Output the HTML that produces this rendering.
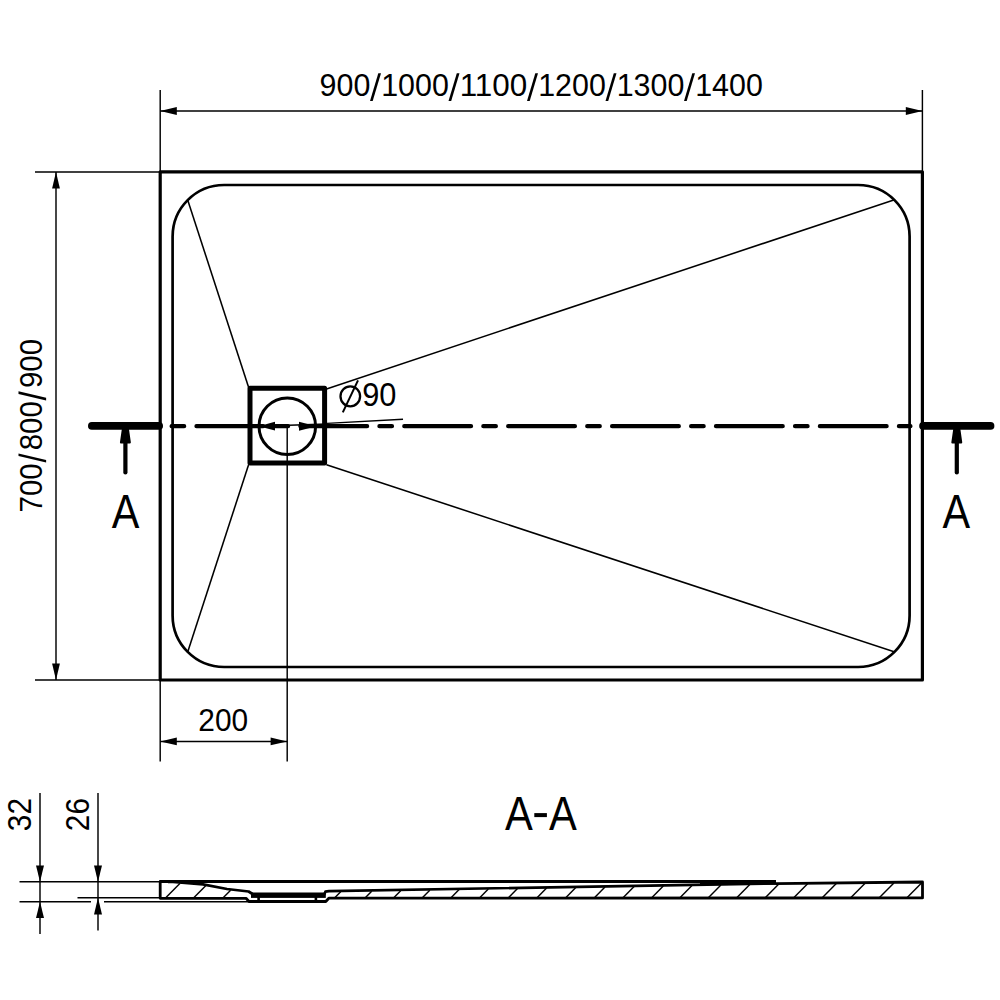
<!DOCTYPE html>
<html>
<head>
<meta charset="utf-8">
<title>Shower tray drawing</title>
<style>
html,body{margin:0;padding:0;background:#fff;}
body{width:1000px;height:1000px;overflow:hidden;}
svg{display:block;}
text{font-family:"Liberation Sans",sans-serif;fill:#000;}
</style>
</head>
<body>
<svg width="1000" height="1000" viewBox="0 0 1000 1000">
<rect x="0" y="0" width="1000" height="1000" fill="#fff"/>

<!-- ===== PLAN VIEW ===== -->
<g fill="none" stroke="#000" stroke-linecap="butt">
  <rect x="160.2" y="171.8" width="762.2" height="508.2" stroke-width="3.2" stroke-linejoin="round"/>
  <rect x="172.6" y="185" width="737" height="482" rx="51.5" ry="51.5" stroke-width="2.7"/>
  <g stroke-width="1.55">
    <line x1="248.5" y1="387" x2="187.62" y2="199.74"/>
    <line x1="248.5" y1="465" x2="187.62" y2="652.26"/>
    <line x1="326.5" y1="388.9" x2="894.52" y2="199.69"/>
    <line x1="326.5" y1="464.8" x2="894.84" y2="652.01"/>
  </g>
  <rect x="250" y="388.2" width="74.6" height="74.9" stroke-width="5" stroke-linejoin="round"/>
  <circle cx="287.3" cy="426.3" r="28.3" stroke-width="3"/>
</g>

<!-- ===== CENTRE / SECTION LINE ===== -->
<g fill="none" stroke="#000" stroke-linecap="round">
  <line x1="171.65" y1="426.2" x2="910.4" y2="426.2" stroke-width="4.3" stroke-dasharray="12.5 12.35 66.7 12.35"/>
  <line x1="91.8" y1="425.9" x2="159.2" y2="425.9" stroke-width="7.6"/>
  <line x1="923" y1="425.9" x2="990.6" y2="425.9" stroke-width="7.6"/>
  <line x1="125.4" y1="440" x2="125.4" y2="472.4" stroke-width="4.2"/>
  <line x1="956.8" y1="440" x2="956.8" y2="472.4" stroke-width="4.2"/>
</g>
<g fill="#000" stroke="#000" stroke-width="1.8" stroke-linejoin="round">
  <path d="M123.2 426 L127.6 426 L129.95 442.5 L120.85 442.5 Z"/>
  <path d="M954.6 426 L959 426 L961.35 442.5 L952.25 442.5 Z"/>
</g>

<!-- ===== DIMENSION LINES ===== -->
<g fill="none" stroke="#000" stroke-width="1.45">
  <line x1="160.2" y1="90" x2="160.2" y2="172"/>
  <line x1="922.4" y1="90" x2="922.4" y2="172"/>
  <line x1="160.2" y1="111" x2="922.4" y2="111"/>
  <line x1="35" y1="171.9" x2="160" y2="171.9"/>
  <line x1="35" y1="680" x2="160" y2="680"/>
  <line x1="56" y1="172" x2="56" y2="680"/>
  <line x1="160.2" y1="680" x2="160.2" y2="761.6"/>
  <line x1="287.2" y1="426" x2="287.2" y2="761.6"/>
  <line x1="160.2" y1="741.4" x2="287.2" y2="741.4"/>
  <line x1="258" y1="426.2" x2="327" y2="424"/>
  <line x1="327" y1="423.4" x2="403" y2="419.2"/>
</g>
<g fill="#000" stroke="none">
  <path d="M160.20 111.00 L176.80 107.10 L176.80 114.90 Z"/>
  <path d="M922.40 111.00 L905.80 114.90 L905.80 107.10 Z"/>
  <path d="M56.00 172.00 L59.90 188.60 L52.10 188.60 Z"/>
  <path d="M56.00 680.00 L52.10 663.40 L59.90 663.40 Z"/>
  <path d="M160.20 741.40 L176.80 737.50 L176.80 745.30 Z"/>
  <path d="M287.20 741.40 L270.60 745.30 L270.60 737.50 Z"/>
  <path d="M258.60 426.20 L275.00 421.80 L275.00 430.60 Z"/>
  <path d="M316.40 426.20 L299.00 430.70 L299.00 421.70 Z"/>
</g>

<!-- ===== TEXT ===== -->
<text x="319.60" y="95.70" font-size="31.2" textLength="50.70" lengthAdjust="spacingAndGlyphs">900</text>
<g fill="#000"><path d="M370.00 101.00 L372.70 101.00 L381.00 73.30 L378.30 73.30 Z"/></g>
<text x="381.20" y="95.70" font-size="31.2" textLength="67.60" lengthAdjust="spacingAndGlyphs">1000</text>
<g fill="#000"><path d="M448.50 101.00 L451.20 101.00 L459.50 73.30 L456.80 73.30 Z"/></g>
<text x="459.70" y="95.70" font-size="31.2" textLength="67.60" lengthAdjust="spacingAndGlyphs">1100</text>
<g fill="#000"><path d="M527.00 101.00 L529.70 101.00 L538.00 73.30 L535.30 73.30 Z"/></g>
<text x="538.20" y="95.70" font-size="31.2" textLength="67.60" lengthAdjust="spacingAndGlyphs">1200</text>
<g fill="#000"><path d="M605.50 101.00 L608.20 101.00 L616.50 73.30 L613.80 73.30 Z"/></g>
<text x="616.70" y="95.70" font-size="31.2" textLength="67.60" lengthAdjust="spacingAndGlyphs">1300</text>
<g fill="#000"><path d="M684.00 101.00 L686.70 101.00 L695.00 73.30 L692.30 73.30 Z"/></g>
<text x="695.20" y="95.70" font-size="31.2" textLength="67.60" lengthAdjust="spacingAndGlyphs">1400</text>
<g transform="translate(41.9 512.5) rotate(-90)">
<text x="0.00" y="0.00" font-size="32.136" textLength="49.20" lengthAdjust="spacingAndGlyphs">700</text>
<g fill="#000"><path d="M49.90 4.20 L52.60 4.20 L59.10 -23.40 L56.40 -23.40 Z"/></g>
<text x="62.20" y="0.00" font-size="32.136" textLength="49.20" lengthAdjust="spacingAndGlyphs">800</text>
<g fill="#000"><path d="M112.10 4.20 L114.80 4.20 L121.30 -23.40 L118.60 -23.40 Z"/></g>
<text x="124.40" y="0.00" font-size="32.136" textLength="49.20" lengthAdjust="spacingAndGlyphs">900</text>
</g>
<text x="198.30" y="730.60" font-size="31.2" textLength="49.80" lengthAdjust="spacingAndGlyphs">200</text>
<text x="362.20" y="405.80" font-size="33.2" textLength="34.20" lengthAdjust="spacingAndGlyphs">90</text>
<g fill="none" stroke="#000">
  <ellipse cx="350.3" cy="396.3" rx="9.8" ry="10" stroke-width="2.3"/>
  <line x1="342.8" y1="412.4" x2="358" y2="380.4" stroke-width="2"/>
</g>
<text x="111.8" y="528.3" font-size="48" textLength="27.6" lengthAdjust="spacingAndGlyphs">A</text>
<text x="942.6" y="528.4" font-size="48" textLength="27.6" lengthAdjust="spacingAndGlyphs">A</text>
<text x="505" y="829.6" font-size="48" textLength="27.8" lengthAdjust="spacingAndGlyphs">A</text>
<rect x="534.3" y="813.1" width="12.6" height="4" fill="#000"/>
<text x="549" y="829.6" font-size="48" textLength="27.8" lengthAdjust="spacingAndGlyphs">A</text>
<g transform="translate(31.2 831.2) rotate(-90)"><text x="0.00" y="0.00" font-size="32.448" textLength="33.20" lengthAdjust="spacingAndGlyphs">32</text></g>
<g transform="translate(89.2 831.2) rotate(-90)"><text x="0.00" y="0.00" font-size="32.448" textLength="33.20" lengthAdjust="spacingAndGlyphs">26</text></g>

<!-- ===== SECTION A-A ===== -->
<g fill="none" stroke="#000" stroke-width="1.45">
  <line x1="40" y1="793" x2="40" y2="934"/>
  <line x1="98" y1="793" x2="98" y2="930.5"/>
  <line x1="19.5" y1="881.7" x2="160" y2="881.7"/>
  <line x1="19.5" y1="901.8" x2="91" y2="901.8"/>
  <line x1="104" y1="901.8" x2="250" y2="901.8"/>
  <line x1="77.5" y1="897.8" x2="160" y2="897.8"/>
</g>
<g fill="#000" stroke="none">
  <path d="M40.00 881.70 L36.00 865.40 L44.00 865.40 Z"/>
  <path d="M40.00 901.80 L44.00 918.10 L36.00 918.10 Z"/>
  <path d="M98.00 881.70 L94.00 865.40 L102.00 865.40 Z"/>
  <path d="M98.00 897.80 L102.00 914.40 L94.00 914.40 Z"/>
</g>
<g fill="none" stroke="#000" stroke-linejoin="round">
  <path d="M776 881.5 L160.2 881.5 L160.2 898.3 L246 898.3 L249 901.5 L325.8 901.5 L328.8 898.2 L922.5 897.9 L922.5 882 L776 883.6" stroke-width="2.8"/>
  <path d="M168 881.8 L173 882 L203 884.4 L227 889 L248.6 891.5 L252.5 894 M324 895 L325.4 891.7 L329 891.15 L776 883.4" stroke-width="2.7"/>
  <path d="M700 883 L776 882.4" stroke-width="4.6"/>
  <rect x="251" y="892.5" width="74.8" height="5.4" fill="#000" stroke="none"/>
  <path d="M258.6 897 L258.6 901 M315.9 897 L315.9 901" stroke-width="2.6"/>
  <g stroke-width="1.45">
    <path d="M166.0 897.4 L180.1 883.3"/>
    <path d="M194.0 897.4 L205.7 885.7"/>
    <path d="M223.4 897.4 L230.6 890.2"/>
    <path d="M335.0 897.4 L340.7 891.7"/>
    <path d="M365.5 897.4 L371.7 891.2"/>
    <path d="M394.0 897.4 L400.7 890.7"/>
    <path d="M422.6 897.4 L429.8 890.2"/>
    <path d="M451.3 897.4 L459.1 889.6"/>
    <path d="M480.0 897.4 L488.3 889.1"/>
    <path d="M508.7 897.4 L517.5 888.6"/>
    <path d="M537.3 897.4 L546.6 888.1"/>
    <path d="M566.0 897.4 L575.8 887.6"/>
    <path d="M594.7 897.4 L605.0 887.1"/>
    <path d="M623.3 897.4 L634.1 886.6"/>
    <path d="M652.0 897.4 L663.3 886.1"/>
    <path d="M680.2 897.4 L692.0 885.6"/>
    <path d="M708.6 897.4 L720.9 885.1"/>
    <path d="M737.0 897.4 L749.8 884.6"/>
    <path d="M765.5 897.4 L778.8 884.1"/>
    <path d="M794.0 897.4 L807.6 883.8"/>
    <path d="M822.5 897.4 L836.3 883.6"/>
    <path d="M851.0 897.4 L865.1 883.3"/>
    <path d="M879.5 897.4 L893.9 883.0"/>
    <path d="M907.2 897.4 L921.8 882.8"/>
  </g>
</g>
</svg>
</body>
</html>
